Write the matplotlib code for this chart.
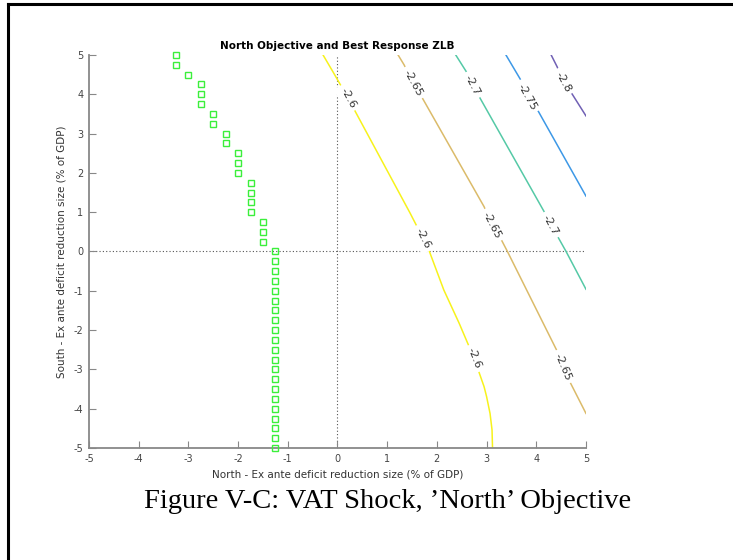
import numpy as np
import matplotlib.pyplot as plt
from matplotlib.lines import Line2D

plt.rcParams['axes.unicode_minus'] = False

# best response (green squares)
br_south = [5.0 - 0.25 * i for i in range(41)]
br_north = ([-3.25, -3.25, -3.0, -2.75, -2.75, -2.75, -2.5, -2.5, -2.25, -2.25,
             -2.0, -2.0, -2.0, -1.75, -1.75, -1.75, -1.75, -1.5, -1.5, -1.5]
            + [-1.25] * 21)

# contour lines (north, south)
c260_x = [-0.29, -0.09, 0.21, 1.46, 1.72, 1.85, 2.14, 2.45, 2.75, 2.95, 3.0, 3.07, 3.11, 3.12]
c260_y = [5.0, 4.57, 3.91, 0.98, 0.34, 0.0, -0.98, -1.83, -2.72, -3.44, -3.69, -4.12, -4.54, -5.0]
c265_x = [1.22, 1.34, 1.52, 1.71, 2.95, 3.11, 3.28, 3.42, 4.41, 4.54, 4.69, 5.0]
c265_y = [5.0, 4.75, 4.29, 3.9, 1.14, 0.67, 0.34, 0.0, -2.51, -2.93, -3.35, -4.12]
c270_x = [2.38, 2.59, 2.72, 2.87, 4.16, 4.28, 4.44, 4.6, 5.0]
c270_y = [5.0, 4.58, 4.24, 3.9, 1.01, 0.67, 0.36, 0.0, -0.96]
c275_x = [3.39, 3.69, 3.81, 4.04, 5.0]
c275_y = [5.0, 4.36, 3.94, 3.57, 1.41]
c280_x = [4.30, 4.42, 4.54, 4.69, 5.0]
c280_y = [5.0, 4.7, 4.32, 4.07, 3.45]

levels = ['-2.6', '-2.65', '-2.7', '-2.75', '-2.8']
colors = ['#f7f21c', '#dbbb6a', '#55c9a6', '#3d98e6', '#7060b4']
lines = [(c260_x, c260_y), (c265_x, c265_y), (c270_x, c270_y),
         (c275_x, c275_y), (c280_x, c280_y)]
# index of the point on each line where a label sits
label_idx = [[2, 4, 8], [2, 5, 9], [2, 5], [2], [2]]

fig = plt.figure(figsize=(7.33, 5.6), dpi=100)
ax = fig.add_axes([0.1214, 0.2, 0.678, 0.7018])
ax.set_xlim(-5, 5)
ax.set_ylim(-5, 5)

ax.axhline(0, color='#555555', lw=0.8, ls=(0, (1, 2)), zorder=1)
ax.axvline(0, color='#555555', lw=0.8, ls=(0, (1, 2)), zorder=1)

for (xs, ys), col in zip(lines, colors):
    ax.plot(xs, ys, color=col, lw=1.1, zorder=2)

fig.canvas.draw()
for (xs, ys), lev, idxs in zip(lines, levels, label_idx):
    for i in idxs:
        p0 = ax.transData.transform((xs[i - 1], ys[i - 1]))
        j = min(i + 1, len(xs) - 1)
        p1 = ax.transData.transform((xs[j], ys[j]))
        ang = np.degrees(np.arctan2(p1[1] - p0[1], p1[0] - p0[0]))
        if ang < -90:
            ang += 180
        if ang > 90:
            ang -= 180
        ax.text(xs[i], ys[i], lev, rotation=ang, rotation_mode='anchor',
                ha='center', va='center', fontsize=8, color='#333333',
                bbox=dict(facecolor='white', edgecolor='none', pad=2.5), zorder=3)

ax.plot(br_north, br_south, 's', mfc='none', mec='#3bef3b', ms=5, mew=1.0,
        zorder=4, clip_on=False)

for s in ['top', 'right']:
    ax.spines[s].set_visible(False)
for s in ['left', 'bottom']:
    ax.spines[s].set_color('#888888')
    ax.spines[s].set_linewidth(1.3)
ax.set_xticks(range(-5, 6))
ax.set_yticks(range(-5, 6))
ax.tick_params(direction='in', length=5, width=0.8, color='#888888',
               labelsize=7, labelcolor='#444444', pad=4)

ax.set_title('North Objective and Best Response ZLB', fontsize=7.5,
             fontweight='bold', pad=4)
ax.set_xlabel('North - Ex ante deficit reduction size (% of GDP)', fontsize=7.5,
              color='#333333', labelpad=4)
ax.set_ylabel('South - Ex ante deficit reduction size (% of GDP)', fontsize=7.5,
              color='#333333', labelpad=5)

fig.text(0.529, 0.105, "Figure V-C: VAT Shock, \u2019North\u2019 Objective",
         fontsize=20.5, family='Liberation Serif', ha='center', va='center')

# page frame
fig.add_artist(Line2D([7.5 / 733, 1.0], [1 - 4 / 560, 1 - 4 / 560],
                      transform=fig.transFigure, color='black', lw=2.2))
fig.add_artist(Line2D([7.5 / 733, 7.5 / 733], [0.0, 1 - 4 / 560],
                      transform=fig.transFigure, color='black', lw=2.2))

fig.savefig('out.png', dpi=100)
